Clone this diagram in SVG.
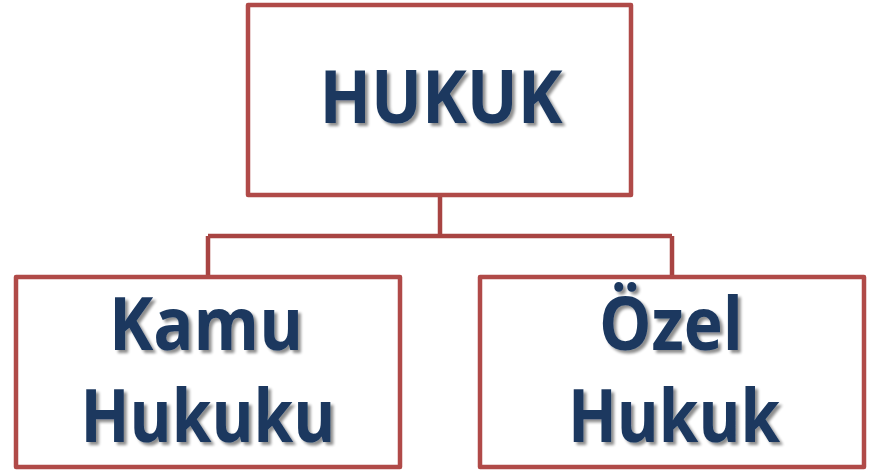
<svg xmlns="http://www.w3.org/2000/svg" width="872" height="470" viewBox="0 0 872 470">
<defs>
<filter id="sh" x="-10%" y="-10%" width="130%" height="140%">
<feGaussianBlur in="SourceAlpha" stdDeviation="1.5"/>
<feOffset dx="2.5" dy="3" result="b"/>
<feComponentTransfer in="b" result="c"><feFuncA type="linear" slope="0.45"/></feComponentTransfer>
<feMerge><feMergeNode in="c"/><feMergeNode in="SourceGraphic"/></feMerge>
</filter>
</defs>
<style>
.box{fill:#fff;stroke:#B04A48;stroke-width:4.5;stroke-linejoin:round}
.ln{fill:none;stroke:#A84442;stroke-width:4.5}
.t{font-family:"Open Sans","Noto Sans",sans-serif;font-weight:bold;fill:#1A375F;text-anchor:middle;filter:url(#sh)}
</style>
<rect width="872" height="470" fill="#fff"/>
<g id="connectors">
<path class="ln" d="M440,195 V236 M208,236 H672 M208,236 V277 M672,236 V277"/>
</g>
<g id="hukuk">
<rect class="box" x="248" y="5" width="383" height="190"/>
<text class="t" x="441" y="123" font-size="74" textLength="243" lengthAdjust="spacingAndGlyphs">HUKUK</text>
</g>
<g id="kamu">
<rect class="box" x="16" y="277" width="384" height="190"/>
<text class="t" x="206" y="350" font-size="73" textLength="194" lengthAdjust="spacingAndGlyphs">Kamu</text>
<text class="t" x="208" y="442" font-size="73" textLength="255" lengthAdjust="spacingAndGlyphs">Hukuku</text>
</g>
<g id="ozel">
<rect class="box" x="480" y="277" width="384" height="190"/>
<text class="t" x="671" y="350" font-size="73" textLength="144" lengthAdjust="spacingAndGlyphs">Özel</text>
<text class="t" x="674" y="442" font-size="73" textLength="212" lengthAdjust="spacingAndGlyphs">Hukuk</text>
</g>
</svg>
